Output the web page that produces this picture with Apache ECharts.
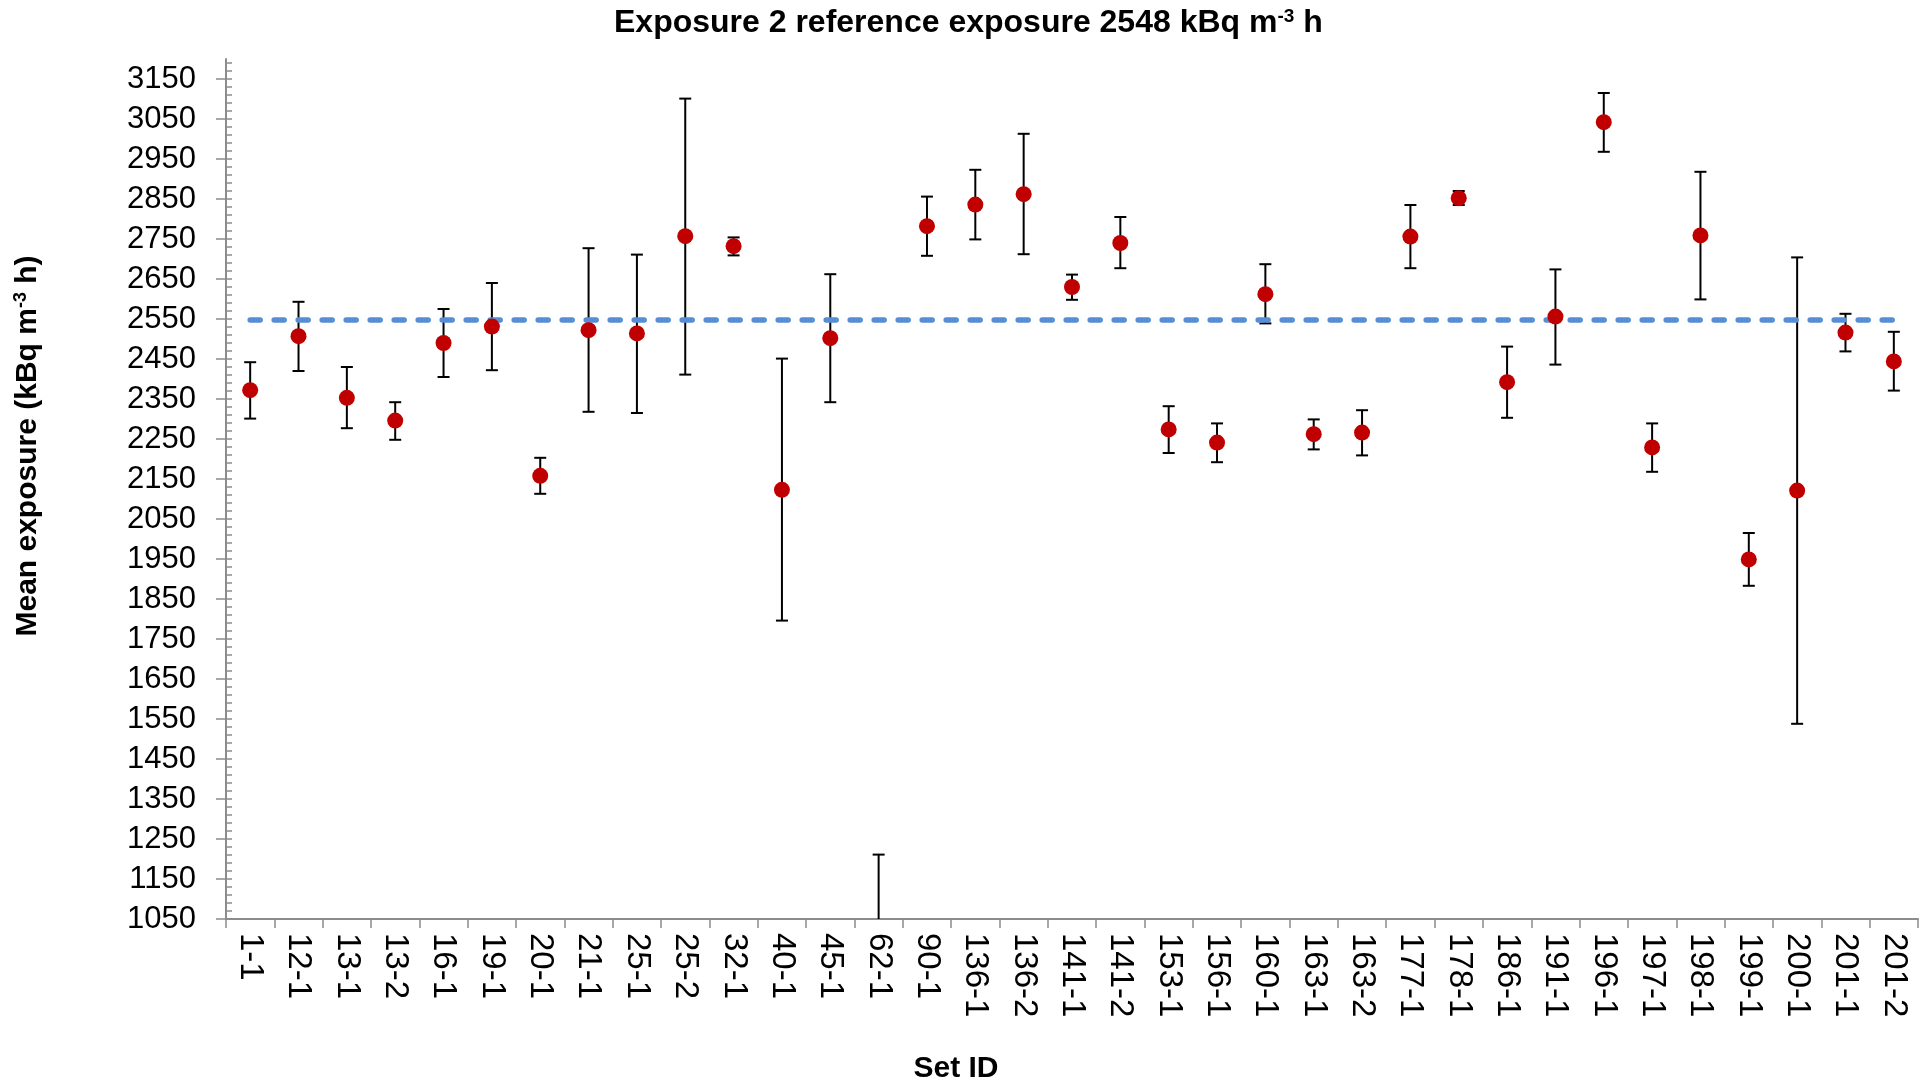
<!DOCTYPE html>
<html>
<head>
<meta charset="utf-8">
<script src="https://cdn.jsdelivr.net/npm/echarts@6/dist/echarts.min.js"></script>
<style>
html,body{margin:0;padding:0;background:#fff;}
#chart{width:1925px;height:1088px;}
</style>
</head>
<body>
<div id="chart"></div>
<script>
const categories = ['1-1','12-1','13-1','13-2','16-1','19-1','20-1','21-1','25-1','25-2','32-1','40-1','45-1','62-1','90-1','136-1','136-2','141-1','141-2','153-1','156-1','160-1','163-1','163-2','177-1','178-1','186-1','191-1','196-1','197-1','198-1','199-1','200-1','201-1','201-2'];
const means = [2372,2507,2353,2296,2490,2531,2158,2522,2514,2757,2732,2123,2502,900,2782,2836,2862,2630,2740,2274,2241,2612,2262,2266,2756,2852,2392,2556,3042,2229,2759,1949,2121,2516,2444];
const upper = [2442,2593,2430,2342,2575,2640,2203,2727,2711,3101,2754,2451,2662,1211,2856,2923,3013,2661,2805,2332,2289,2687,2299,2322,2835,2870,2481,2674,3115,2289,2918,2015,2704,2563,2518];
const lower = [2301,2420,2277,2248,2405,2422,2113,2318,2315,2411,2709,1796,2342,589,2708,2749,2712,2598,2677,2215,2192,2539,2224,2209,2677,2835,2303,2436,2968,2168,2599,1883,1538,2469,2371];
const referenceExposure = 2548;
const yTickLabels = [1050,1150,1250,1350,1450,1550,1650,1750,1850,1950,2050,2150,2250,2350,2450,2550,2650,2750,2850,2950,3050,3150];
const yMin = 1050, yMax = 3200;

const FONT = "'Liberation Sans', Arial, sans-serif";
const minorTicks = [];
for (let v = yMin; v < yMax; v += 20) minorTicks.push(v);

const errData = categories.map((c, i) => [i, lower[i], upper[i]]);
const dotData = categories.map((c, i) => [i, means[i]]);

function renderErr(params, api) {
  const i = api.value(0);
  const top = api.coord([i, api.value(2)]);
  const bot = api.coord([i, api.value(1)]);
  const x = top[0];
  const st = {stroke: '#000', lineWidth: 2};
  return {type: 'group', children: [
    {type: 'line', shape: {x1: x, y1: top[1], x2: x, y2: bot[1]}, style: st},
    {type: 'line', shape: {x1: x - 6, y1: top[1], x2: x + 6, y2: top[1]}, style: st},
    {type: 'line', shape: {x1: x - 6, y1: bot[1], x2: x + 6, y2: bot[1]}, style: st}
  ]};
}

const chart = echarts.init(document.getElementById('chart'), null, {renderer: 'canvas'});
chart.setOption({
  animation: false,
  backgroundColor: '#fff',
  title: {
    text: '{b|Exposure 2 reference exposure 2548 kBq m}{s|-3}{b| h}',
    left: 614,
    top: 7,
    padding: 0,
    textStyle: {
      rich: {
        b: {fontSize: 32, fontWeight: 'bold', fontFamily: FONT, color: '#000'},
        s: {fontSize: 19, fontWeight: 'bold', fontFamily: FONT, color: '#000', padding: [0, 0, 14, 0]}
      }
    }
  },
  graphic: [
    {
      type: 'text', x: 28, y: 446, rotation: Math.PI / 2,
      style: {
        text: '{b|Mean exposure (kBq m}{s|-3}{b| h)}',
        align: 'center', verticalAlign: 'middle',
        rich: {
          b: {fontSize: 30, fontWeight: 'bold', fontFamily: FONT, fill: '#000'},
          s: {fontSize: 18, fontWeight: 'bold', fontFamily: FONT, fill: '#000', padding: [0, 0, 14, 0]}
        }
      }
    },
    {
      type: 'text', x: 956, y: 1069,
      style: {text: 'Set ID', align: 'center', verticalAlign: 'middle', fontSize: 30, fontWeight: 'bold', fontFamily: FONT, fill: '#000'}
    }
  ],
  grid: {left: 226, right: 7, top: 59, bottom: 169, containLabel: false},
  xAxis: {
    type: 'category',
    data: categories,
    boundaryGap: true,
    axisLine: {lineStyle: {color: '#8c8c8c', width: 2}},
    axisTick: {show: true, length: 9, lineStyle: {color: '#8c8c8c', width: 1.5}},
    axisLabel: {rotate: -90, margin: 14, fontSize: 33, fontFamily: FONT, color: '#000', interval: 0},
    splitLine: {show: false}
  },
  yAxis: [
    {
      type: 'value', position: 'left', min: yMin, max: yMax,
      axisLine: {show: true, lineStyle: {color: '#8c8c8c', width: 2}},
      axisTick: {show: true, length: 10, customValues: yTickLabels, lineStyle: {color: '#8c8c8c', width: 1.5}},
      axisLabel: {customValues: yTickLabels, margin: 30, fontSize: 31, fontFamily: FONT, color: '#000', formatter: v => String(v)},
      splitLine: {show: false}
    },
    {
      type: 'value', position: 'left', min: yMin, max: yMax,
      axisLine: {show: false},
      axisTick: {show: true, inside: true, length: 6, customValues: minorTicks, lineStyle: {color: '#8c8c8c', width: 1.5}},
      axisLabel: {show: false},
      splitLine: {show: false}
    }
  ],
  series: [
    {
      type: 'custom',
      name: 'range',
      renderItem: renderErr,
      data: errData,
      encode: {x: 0, y: [1, 2]},
      clip: true,
      z: 2,
      markLine: {
        silent: true,
        symbol: 'none',
        label: {show: false},
        lineStyle: {color: '#558ED5', width: 5.5, type: [10, 14], cap: 'round'},
        data: [[{coord: [categories[0], referenceExposure]}, {coord: [categories[categories.length - 1], referenceExposure]}]]
      }
    },
    {
      type: 'scatter',
      name: 'mean',
      data: dotData,
      symbol: 'circle',
      symbolSize: 16,
      itemStyle: {color: '#C00000', opacity: 1},
      clip: true,
      z: 5
    }
  ]
});
</script>
</body>
</html>
